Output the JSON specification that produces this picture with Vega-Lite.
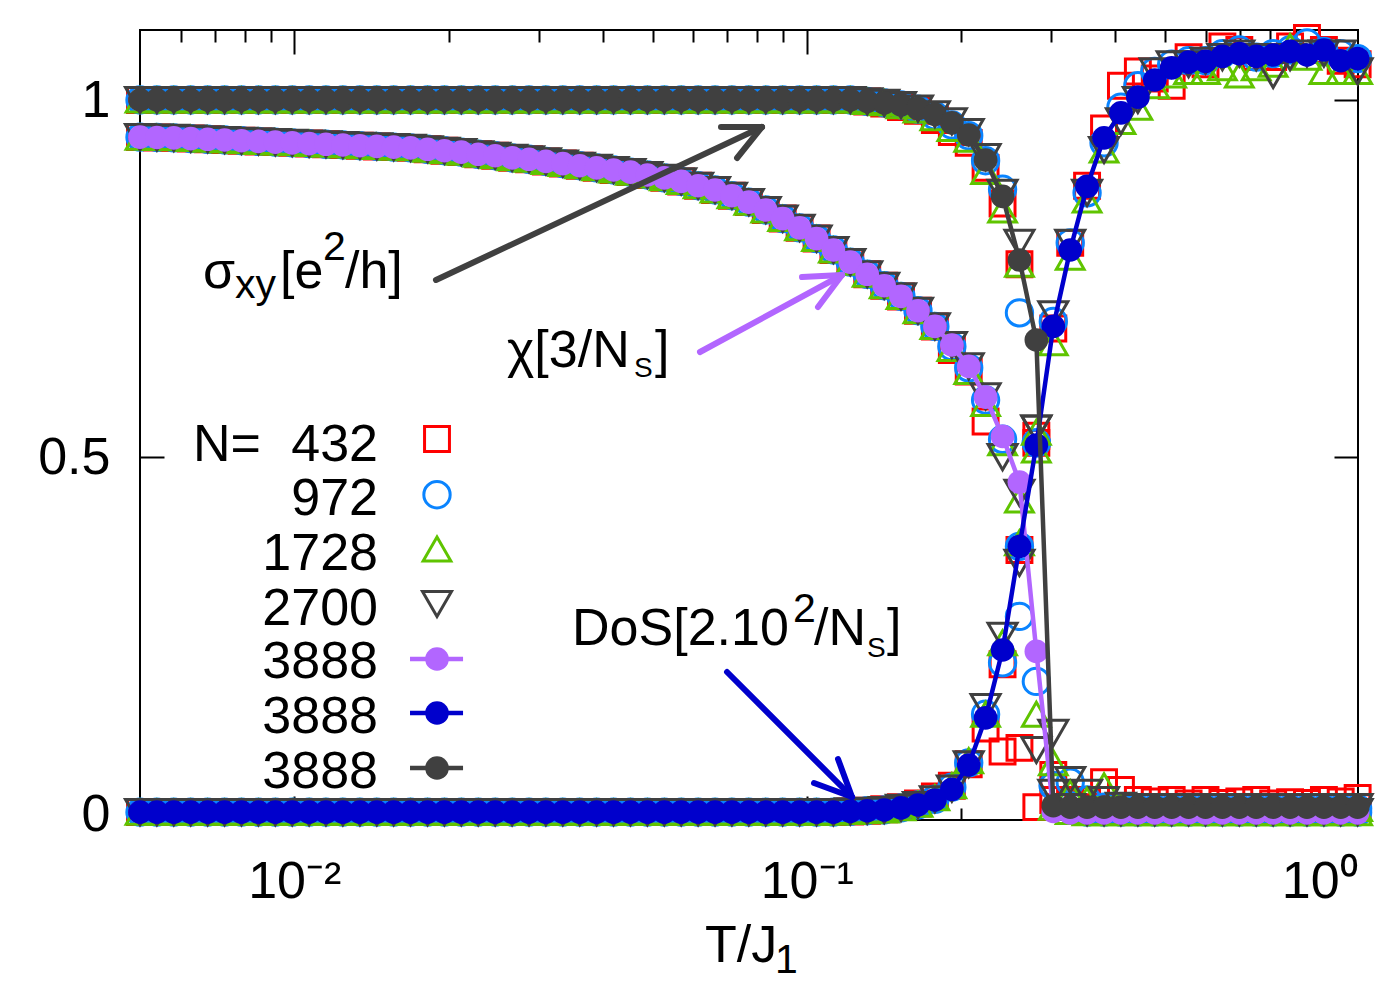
{
  "$schema": "https://vega.github.io/schema/vega-lite/v6.json",
  "width": 1218,
  "height": 790,
  "autosize": {"type": "none"},
  "padding": {"left": 140, "top": 30, "right": 42, "bottom": 180},
  "background": "white",
  "config": {
    "view": {"stroke": "black", "strokeWidth": 2},
    "axis": {
      "domain": false, "grid": false,
      "labelFont": "Liberation Sans", "labelFontSize": 52, "labelColor": "black",
      "titleFont": "Liberation Sans", "titleFontSize": 52, "titleFontWeight": "normal", "titleColor": "black",
      "tickColor": "black", "tickWidth": 2
    },
    "text": {"font": "Liberation Sans", "color": "black"}
  },
  "datasets": {
    "curves": [
      {"T":0.005,"q":"s","N0432":1,"N0972":1,"N1728":1,"N2700":1,"N3888":1},
      {"T":0.005394,"q":"s","N0432":1,"N0972":1,"N1728":1,"N2700":1,"N3888":1},
      {"T":0.00582,"q":"s","N0432":1,"N0972":1,"N1728":1,"N2700":1,"N3888":1},
      {"T":0.00628,"q":"s","N0432":1,"N0972":1,"N1728":1,"N2700":1,"N3888":1},
      {"T":0.006776,"q":"s","N0432":1,"N0972":1,"N1728":1,"N2700":1,"N3888":1},
      {"T":0.007311,"q":"s","N0432":1,"N0972":1,"N1728":1,"N2700":1,"N3888":1},
      {"T":0.007888,"q":"s","N0432":1,"N0972":1,"N1728":1,"N2700":1,"N3888":1},
      {"T":0.008511,"q":"s","N0432":1,"N0972":1,"N1728":1,"N2700":1,"N3888":1},
      {"T":0.009183,"q":"s","N0432":1,"N0972":1,"N1728":1,"N2700":1,"N3888":1},
      {"T":0.009908,"q":"s","N0432":1,"N0972":1,"N1728":1,"N2700":1,"N3888":1},
      {"T":0.01069,"q":"s","N0432":1,"N0972":1,"N1728":1,"N2700":1,"N3888":1},
      {"T":0.01153,"q":"s","N0432":1,"N0972":1,"N1728":1,"N2700":1,"N3888":1},
      {"T":0.01244,"q":"s","N0432":1,"N0972":1,"N1728":1,"N2700":1,"N3888":1},
      {"T":0.01343,"q":"s","N0432":1,"N0972":1,"N1728":1,"N2700":1,"N3888":1},
      {"T":0.01449,"q":"s","N0432":1,"N0972":1,"N1728":1,"N2700":1,"N3888":1},
      {"T":0.01563,"q":"s","N0432":1,"N0972":1,"N1728":1,"N2700":1,"N3888":1},
      {"T":0.01686,"q":"s","N0432":1,"N0972":1,"N1728":1,"N2700":1,"N3888":1},
      {"T":0.0182,"q":"s","N0432":1,"N0972":1,"N1728":1,"N2700":1,"N3888":1},
      {"T":0.01963,"q":"s","N0432":1,"N0972":1,"N1728":1,"N2700":1,"N3888":1},
      {"T":0.02118,"q":"s","N0432":1,"N0972":1,"N1728":1,"N2700":1,"N3888":1},
      {"T":0.02285,"q":"s","N0432":1,"N0972":1,"N1728":1,"N2700":1,"N3888":1},
      {"T":0.02466,"q":"s","N0432":1,"N0972":1,"N1728":1,"N2700":1,"N3888":1},
      {"T":0.02661,"q":"s","N0432":1,"N0972":1,"N1728":1,"N2700":1,"N3888":1},
      {"T":0.02871,"q":"s","N0432":1,"N0972":1,"N1728":1,"N2700":1,"N3888":1},
      {"T":0.03097,"q":"s","N0432":1,"N0972":1,"N1728":1,"N2700":1,"N3888":1},
      {"T":0.03342,"q":"s","N0432":1,"N0972":1,"N1728":1,"N2700":1,"N3888":1},
      {"T":0.03606,"q":"s","N0432":1,"N0972":1,"N1728":1,"N2700":1,"N3888":1},
      {"T":0.0389,"q":"s","N0432":1,"N0972":1,"N1728":1,"N2700":1,"N3888":1},
      {"T":0.04197,"q":"s","N0432":1,"N0972":1,"N1728":1,"N2700":1,"N3888":1},
      {"T":0.04529,"q":"s","N0432":1,"N0972":1,"N1728":1,"N2700":1,"N3888":1},
      {"T":0.04886,"q":"s","N0432":1,"N0972":1,"N1728":1,"N2700":1,"N3888":1},
      {"T":0.05272,"q":"s","N0432":1,"N0972":1,"N1728":1,"N2700":1,"N3888":1},
      {"T":0.05688,"q":"s","N0432":1,"N0972":1,"N1728":1,"N2700":1,"N3888":1},
      {"T":0.06137,"q":"s","N0432":1,"N0972":1,"N1728":1,"N2700":1,"N3888":1},
      {"T":0.06622,"q":"s","N0432":1,"N0972":1,"N1728":1,"N2700":1,"N3888":1},
      {"T":0.07144,"q":"s","N0432":1,"N0972":1,"N1728":1,"N2700":1,"N3888":1},
      {"T":0.07708,"q":"s","N0432":1,"N0972":1,"N1728":1,"N2700":1,"N3888":1},
      {"T":0.08317,"q":"s","N0432":1,"N0972":1,"N1728":1,"N2700":1,"N3888":1},
      {"T":0.08974,"q":"s","N0432":1,"N0972":1,"N1728":1,"N2700":1,"N3888":1},
      {"T":0.09682,"q":"s","N0432":1,"N0972":1,"N1728":1,"N2700":1,"N3888":1},
      {"T":0.1045,"q":"s","N0432":1,"N0972":1,"N1728":1,"N2700":1,"N3888":1},
      {"T":0.1127,"q":"s","N0432":1,"N0972":1,"N1728":1,"N2700":1,"N3888":1},
      {"T":0.1216,"q":"s","N0432":1,"N0972":1,"N1728":1,"N2700":1,"N3888":1},
      {"T":0.1312,"q":"s","N0432":0.998,"N0972":0.998,"N1728":0.998,"N2700":0.998,"N3888":0.998},
      {"T":0.1416,"q":"s","N0432":0.995,"N0972":0.996,"N1728":0.996,"N2700":0.996,"N3888":0.996},
      {"T":0.1527,"q":"s","N0432":0.99,"N0972":0.993,"N1728":0.992,"N2700":0.993,"N3888":0.993},
      {"T":0.1648,"q":"s","N0432":0.985,"N0972":0.987,"N1728":0.986,"N2700":0.988,"N3888":0.988},
      {"T":0.1778,"q":"s","N0432":0.972,"N0972":0.978,"N1728":0.975,"N2700":0.98,"N3888":0.98},
      {"T":0.1919,"q":"s","N0432":0.955,"N0972":0.965,"N1728":0.96,"N2700":0.97,"N3888":0.968},
      {"T":0.207,"q":"s","N0432":0.94,"N0972":0.95,"N1728":0.945,"N2700":0.955,"N3888":0.951},
      {"T":0.2233,"q":"s","N0432":0.905,"N0972":0.915,"N1728":0.9,"N2700":0.92,"N3888":0.916},
      {"T":0.241,"q":"s","N0432":0.855,"N0972":0.875,"N1728":0.846,"N2700":0.87,"N3888":0.865},
      {"T":0.26,"q":"s","N0432":0.77,"N0972":0.702,"N1728":0.77,"N2700":0.8,"N3888":0.776},
      {"T":0.2805,"q":"s","N0432":0.53,"N0972":0.52,"N1728":0.535,"N2700":0.54,"N3888":0.664},
      {"T":0.3027,"q":"s","N0432":0.055,"N0972":0.04,"N1728":0.072,"N2700":0.114,"N3888":0.012},
      {"T":0.3266,"q":"s","N0432":0.02,"N0972":0.045,"N1728":0.03,"N2700":0.048,"N3888":0.01},
      {"T":0.3523,"q":"s","N0432":0.02,"N0972":0.02,"N1728":0.02,"N2700":0.03,"N3888":0.01},
      {"T":0.3802,"q":"s","N0432":0.045,"N0972":0.01,"N1728":0.04,"N2700":0.02,"N3888":0.01},
      {"T":0.4102,"q":"s","N0432":0.034,"N0972":0.01,"N1728":0.01,"N2700":0.012,"N3888":0.01},
      {"T":0.4426,"q":"s","N0432":0.02,"N0972":0.008,"N1728":0.008,"N2700":0.01,"N3888":0.01},
      {"T":0.4775,"q":"s","N0432":0.018,"N0972":0.008,"N1728":0.008,"N2700":0.01,"N3888":0.01},
      {"T":0.5152,"q":"s","N0432":0.02,"N0972":0.008,"N1728":0.008,"N2700":0.01,"N3888":0.01},
      {"T":0.5559,"q":"s","N0432":0.015,"N0972":0.008,"N1728":0.008,"N2700":0.01,"N3888":0.01},
      {"T":0.5998,"q":"s","N0432":0.02,"N0972":0.008,"N1728":0.008,"N2700":0.01,"N3888":0.01},
      {"T":0.6471,"q":"s","N0432":0.016,"N0972":0.008,"N1728":0.008,"N2700":0.01,"N3888":0.01},
      {"T":0.6982,"q":"s","N0432":0.018,"N0972":0.008,"N1728":0.008,"N2700":0.01,"N3888":0.01},
      {"T":0.7533,"q":"s","N0432":0.02,"N0972":0.008,"N1728":0.008,"N2700":0.01,"N3888":0.01},
      {"T":0.8128,"q":"s","N0432":0.015,"N0972":0.008,"N1728":0.008,"N2700":0.01,"N3888":0.01},
      {"T":0.877,"q":"s","N0432":0.017,"N0972":0.008,"N1728":0.008,"N2700":0.01,"N3888":0.01},
      {"T":0.9462,"q":"s","N0432":0.016,"N0972":0.008,"N1728":0.008,"N2700":0.01,"N3888":0.01},
      {"T":1.021,"q":"s","N0432":0.02,"N0972":0.008,"N1728":0.008,"N2700":0.01,"N3888":0.01},
      {"T":1.101,"q":"s","N0432":0.018,"N0972":0.008,"N1728":0.008,"N2700":0.01,"N3888":0.01},
      {"T":1.188,"q":"s","N0432":0.023,"N0972":0.008,"N1728":0.008,"N2700":0.01,"N3888":0.01},

      {"T":0.005,"q":"c","N0432":0.948,"N0972":0.948,"N1728":0.948,"N2700":0.948,"N3888":0.948},
      {"T":0.005394,"q":"c","N0432":0.9475,"N0972":0.9475,"N1728":0.9475,"N2700":0.9475,"N3888":0.9475},
      {"T":0.00582,"q":"c","N0432":0.947,"N0972":0.947,"N1728":0.947,"N2700":0.947,"N3888":0.947},
      {"T":0.00628,"q":"c","N0432":0.946,"N0972":0.946,"N1728":0.946,"N2700":0.946,"N3888":0.946},
      {"T":0.006776,"q":"c","N0432":0.945,"N0972":0.945,"N1728":0.945,"N2700":0.945,"N3888":0.945},
      {"T":0.007311,"q":"c","N0432":0.944,"N0972":0.944,"N1728":0.944,"N2700":0.944,"N3888":0.944},
      {"T":0.007888,"q":"c","N0432":0.943,"N0972":0.943,"N1728":0.943,"N2700":0.943,"N3888":0.943},
      {"T":0.008511,"q":"c","N0432":0.942,"N0972":0.942,"N1728":0.942,"N2700":0.942,"N3888":0.942},
      {"T":0.009183,"q":"c","N0432":0.941,"N0972":0.941,"N1728":0.941,"N2700":0.941,"N3888":0.941},
      {"T":0.009908,"q":"c","N0432":0.94,"N0972":0.94,"N1728":0.94,"N2700":0.94,"N3888":0.94},
      {"T":0.01069,"q":"c","N0432":0.939,"N0972":0.939,"N1728":0.939,"N2700":0.939,"N3888":0.939},
      {"T":0.01153,"q":"c","N0432":0.938,"N0972":0.938,"N1728":0.938,"N2700":0.938,"N3888":0.938},
      {"T":0.01244,"q":"c","N0432":0.937,"N0972":0.937,"N1728":0.937,"N2700":0.937,"N3888":0.937},
      {"T":0.01343,"q":"c","N0432":0.936,"N0972":0.936,"N1728":0.936,"N2700":0.936,"N3888":0.936},
      {"T":0.01449,"q":"c","N0432":0.935,"N0972":0.935,"N1728":0.935,"N2700":0.935,"N3888":0.935},
      {"T":0.01563,"q":"c","N0432":0.934,"N0972":0.934,"N1728":0.934,"N2700":0.934,"N3888":0.934},
      {"T":0.01686,"q":"c","N0432":0.933,"N0972":0.933,"N1728":0.933,"N2700":0.933,"N3888":0.933},
      {"T":0.0182,"q":"c","N0432":0.931,"N0972":0.931,"N1728":0.931,"N2700":0.931,"N3888":0.931},
      {"T":0.01963,"q":"c","N0432":0.929,"N0972":0.929,"N1728":0.929,"N2700":0.929,"N3888":0.929},
      {"T":0.02118,"q":"c","N0432":0.927,"N0972":0.927,"N1728":0.927,"N2700":0.927,"N3888":0.927},
      {"T":0.02285,"q":"c","N0432":0.924,"N0972":0.924,"N1728":0.924,"N2700":0.924,"N3888":0.924},
      {"T":0.02466,"q":"c","N0432":0.922,"N0972":0.922,"N1728":0.922,"N2700":0.922,"N3888":0.922},
      {"T":0.02661,"q":"c","N0432":0.919,"N0972":0.919,"N1728":0.919,"N2700":0.919,"N3888":0.919},
      {"T":0.02871,"q":"c","N0432":0.917,"N0972":0.917,"N1728":0.917,"N2700":0.917,"N3888":0.917},
      {"T":0.03097,"q":"c","N0432":0.914,"N0972":0.914,"N1728":0.914,"N2700":0.914,"N3888":0.914},
      {"T":0.03342,"q":"c","N0432":0.911,"N0972":0.911,"N1728":0.911,"N2700":0.911,"N3888":0.911},
      {"T":0.03606,"q":"c","N0432":0.908,"N0972":0.908,"N1728":0.908,"N2700":0.908,"N3888":0.908},
      {"T":0.0389,"q":"c","N0432":0.905,"N0972":0.905,"N1728":0.905,"N2700":0.905,"N3888":0.905},
      {"T":0.04197,"q":"c","N0432":0.902,"N0972":0.902,"N1728":0.902,"N2700":0.902,"N3888":0.902},
      {"T":0.04529,"q":"c","N0432":0.899,"N0972":0.899,"N1728":0.899,"N2700":0.899,"N3888":0.899},
      {"T":0.04886,"q":"c","N0432":0.895,"N0972":0.895,"N1728":0.895,"N2700":0.895,"N3888":0.895},
      {"T":0.05272,"q":"c","N0432":0.891,"N0972":0.891,"N1728":0.891,"N2700":0.891,"N3888":0.891},
      {"T":0.05688,"q":"c","N0432":0.886,"N0972":0.886,"N1728":0.886,"N2700":0.886,"N3888":0.886},
      {"T":0.06137,"q":"c","N0432":0.88,"N0972":0.88,"N1728":0.88,"N2700":0.88,"N3888":0.88},
      {"T":0.06622,"q":"c","N0432":0.874,"N0972":0.874,"N1728":0.874,"N2700":0.874,"N3888":0.874},
      {"T":0.07144,"q":"c","N0432":0.866,"N0972":0.866,"N1728":0.866,"N2700":0.866,"N3888":0.866},
      {"T":0.07708,"q":"c","N0432":0.857,"N0972":0.857,"N1728":0.857,"N2700":0.857,"N3888":0.857},
      {"T":0.08317,"q":"c","N0432":0.846,"N0972":0.846,"N1728":0.846,"N2700":0.846,"N3888":0.846},
      {"T":0.08974,"q":"c","N0432":0.834,"N0972":0.834,"N1728":0.834,"N2700":0.834,"N3888":0.834},
      {"T":0.09682,"q":"c","N0432":0.821,"N0972":0.821,"N1728":0.821,"N2700":0.821,"N3888":0.821},
      {"T":0.1045,"q":"c","N0432":0.806,"N0972":0.806,"N1728":0.806,"N2700":0.806,"N3888":0.806},
      {"T":0.1127,"q":"c","N0432":0.79,"N0972":0.79,"N1728":0.79,"N2700":0.79,"N3888":0.79},
      {"T":0.1216,"q":"c","N0432":0.773,"N0972":0.773,"N1728":0.773,"N2700":0.773,"N3888":0.773},
      {"T":0.1312,"q":"c","N0432":0.756,"N0972":0.756,"N1728":0.756,"N2700":0.756,"N3888":0.756},
      {"T":0.1416,"q":"c","N0432":0.74,"N0972":0.74,"N1728":0.74,"N2700":0.74,"N3888":0.74},
      {"T":0.1527,"q":"c","N0432":0.725,"N0972":0.725,"N1728":0.725,"N2700":0.725,"N3888":0.725},
      {"T":0.1648,"q":"c","N0432":0.705,"N0972":0.705,"N1728":0.705,"N2700":0.705,"N3888":0.705},
      {"T":0.1778,"q":"c","N0432":0.683,"N0972":0.683,"N1728":0.683,"N2700":0.683,"N3888":0.683},
      {"T":0.1919,"q":"c","N0432":0.65,"N0972":0.655,"N1728":0.652,"N2700":0.657,"N3888":0.657},
      {"T":0.207,"q":"c","N0432":0.62,"N0972":0.625,"N1728":0.62,"N2700":0.627,"N3888":0.627},
      {"T":0.2233,"q":"c","N0432":0.55,"N0972":0.58,"N1728":0.575,"N2700":0.585,"N3888":0.584},
      {"T":0.241,"q":"c","N0432":0.088,"N0972":0.525,"N1728":0.52,"N2700":0.5,"N3888":0.529},
      {"T":0.26,"q":"c","N0432":0.093,"N0972":0.277,"N1728":0.44,"N2700":0.45,"N3888":0.465},
      {"T":0.2805,"q":"c","N0432":0.01,"N0972":0.186,"N1728":0.14,"N2700":0.09,"N3888":0.228},
      {"T":0.3027,"q":"c","N0432":0.02,"N0972":0.04,"N1728":0.01,"N2700":0.03,"N3888":0.004},
      {"T":0.3266,"q":"c","N0432":0.02,"N0972":0.012,"N1728":0.004,"N2700":0.01,"N3888":0.002},
      {"T":0.3523,"q":"c","N0432":0.01,"N0972":0.003,"N1728":0.002,"N2700":0.003,"N3888":0.002},
      {"T":0.3802,"q":"c","N0432":0.01,"N0972":0.003,"N1728":0.002,"N2700":0.003,"N3888":0.002},
      {"T":0.4102,"q":"c","N0432":0.01,"N0972":0.003,"N1728":0.002,"N2700":0.003,"N3888":0.002},
      {"T":0.4426,"q":"c","N0432":0.01,"N0972":0.003,"N1728":0.002,"N2700":0.003,"N3888":0.002},
      {"T":0.4775,"q":"c","N0432":0.01,"N0972":0.003,"N1728":0.002,"N2700":0.003,"N3888":0.002},
      {"T":0.5152,"q":"c","N0432":0.01,"N0972":0.003,"N1728":0.002,"N2700":0.003,"N3888":0.002},
      {"T":0.5559,"q":"c","N0432":0.01,"N0972":0.003,"N1728":0.002,"N2700":0.003,"N3888":0.002},
      {"T":0.5998,"q":"c","N0432":0.01,"N0972":0.003,"N1728":0.002,"N2700":0.003,"N3888":0.002},
      {"T":0.6471,"q":"c","N0432":0.01,"N0972":0.003,"N1728":0.002,"N2700":0.003,"N3888":0.002},
      {"T":0.6982,"q":"c","N0432":0.01,"N0972":0.003,"N1728":0.002,"N2700":0.003,"N3888":0.002},
      {"T":0.7533,"q":"c","N0432":0.01,"N0972":0.003,"N1728":0.002,"N2700":0.003,"N3888":0.002},
      {"T":0.8128,"q":"c","N0432":0.01,"N0972":0.003,"N1728":0.002,"N2700":0.003,"N3888":0.002},
      {"T":0.877,"q":"c","N0432":0.01,"N0972":0.003,"N1728":0.002,"N2700":0.003,"N3888":0.002},
      {"T":0.9462,"q":"c","N0432":0.01,"N0972":0.003,"N1728":0.002,"N2700":0.003,"N3888":0.002},
      {"T":1.021,"q":"c","N0432":0.01,"N0972":0.003,"N1728":0.002,"N2700":0.003,"N3888":0.002},
      {"T":1.101,"q":"c","N0432":0.01,"N0972":0.003,"N1728":0.002,"N2700":0.003,"N3888":0.002},
      {"T":1.188,"q":"c","N0432":0.01,"N0972":0.003,"N1728":0.002,"N2700":0.003,"N3888":0.002},

      {"T":0.005,"q":"d","N0432":0.003,"N0972":0.003,"N1728":0.003,"N2700":0.003,"N3888":0.003},
      {"T":0.005394,"q":"d","N0432":0.003,"N0972":0.003,"N1728":0.003,"N2700":0.003,"N3888":0.003},
      {"T":0.00582,"q":"d","N0432":0.003,"N0972":0.003,"N1728":0.003,"N2700":0.003,"N3888":0.003},
      {"T":0.00628,"q":"d","N0432":0.003,"N0972":0.003,"N1728":0.003,"N2700":0.003,"N3888":0.003},
      {"T":0.006776,"q":"d","N0432":0.003,"N0972":0.003,"N1728":0.003,"N2700":0.003,"N3888":0.003},
      {"T":0.007311,"q":"d","N0432":0.003,"N0972":0.003,"N1728":0.003,"N2700":0.003,"N3888":0.003},
      {"T":0.007888,"q":"d","N0432":0.003,"N0972":0.003,"N1728":0.003,"N2700":0.003,"N3888":0.003},
      {"T":0.008511,"q":"d","N0432":0.003,"N0972":0.003,"N1728":0.003,"N2700":0.003,"N3888":0.003},
      {"T":0.009183,"q":"d","N0432":0.003,"N0972":0.003,"N1728":0.003,"N2700":0.003,"N3888":0.003},
      {"T":0.009908,"q":"d","N0432":0.003,"N0972":0.003,"N1728":0.003,"N2700":0.003,"N3888":0.003},
      {"T":0.01069,"q":"d","N0432":0.003,"N0972":0.003,"N1728":0.003,"N2700":0.003,"N3888":0.003},
      {"T":0.01153,"q":"d","N0432":0.003,"N0972":0.003,"N1728":0.003,"N2700":0.003,"N3888":0.003},
      {"T":0.01244,"q":"d","N0432":0.003,"N0972":0.003,"N1728":0.003,"N2700":0.003,"N3888":0.003},
      {"T":0.01343,"q":"d","N0432":0.003,"N0972":0.003,"N1728":0.003,"N2700":0.003,"N3888":0.003},
      {"T":0.01449,"q":"d","N0432":0.003,"N0972":0.003,"N1728":0.003,"N2700":0.003,"N3888":0.003},
      {"T":0.01563,"q":"d","N0432":0.003,"N0972":0.003,"N1728":0.003,"N2700":0.003,"N3888":0.003},
      {"T":0.01686,"q":"d","N0432":0.003,"N0972":0.003,"N1728":0.003,"N2700":0.003,"N3888":0.003},
      {"T":0.0182,"q":"d","N0432":0.003,"N0972":0.003,"N1728":0.003,"N2700":0.003,"N3888":0.003},
      {"T":0.01963,"q":"d","N0432":0.003,"N0972":0.003,"N1728":0.003,"N2700":0.003,"N3888":0.003},
      {"T":0.02118,"q":"d","N0432":0.003,"N0972":0.003,"N1728":0.003,"N2700":0.003,"N3888":0.003},
      {"T":0.02285,"q":"d","N0432":0.003,"N0972":0.003,"N1728":0.003,"N2700":0.003,"N3888":0.003},
      {"T":0.02466,"q":"d","N0432":0.003,"N0972":0.003,"N1728":0.003,"N2700":0.003,"N3888":0.003},
      {"T":0.02661,"q":"d","N0432":0.003,"N0972":0.003,"N1728":0.003,"N2700":0.003,"N3888":0.003},
      {"T":0.02871,"q":"d","N0432":0.003,"N0972":0.003,"N1728":0.003,"N2700":0.003,"N3888":0.003},
      {"T":0.03097,"q":"d","N0432":0.003,"N0972":0.003,"N1728":0.003,"N2700":0.003,"N3888":0.003},
      {"T":0.03342,"q":"d","N0432":0.003,"N0972":0.003,"N1728":0.003,"N2700":0.003,"N3888":0.003},
      {"T":0.03606,"q":"d","N0432":0.003,"N0972":0.003,"N1728":0.003,"N2700":0.003,"N3888":0.003},
      {"T":0.0389,"q":"d","N0432":0.003,"N0972":0.003,"N1728":0.003,"N2700":0.003,"N3888":0.003},
      {"T":0.04197,"q":"d","N0432":0.003,"N0972":0.003,"N1728":0.003,"N2700":0.003,"N3888":0.003},
      {"T":0.04529,"q":"d","N0432":0.003,"N0972":0.003,"N1728":0.003,"N2700":0.003,"N3888":0.003},
      {"T":0.04886,"q":"d","N0432":0.003,"N0972":0.003,"N1728":0.003,"N2700":0.003,"N3888":0.003},
      {"T":0.05272,"q":"d","N0432":0.003,"N0972":0.003,"N1728":0.003,"N2700":0.003,"N3888":0.003},
      {"T":0.05688,"q":"d","N0432":0.003,"N0972":0.003,"N1728":0.003,"N2700":0.003,"N3888":0.003},
      {"T":0.06137,"q":"d","N0432":0.003,"N0972":0.003,"N1728":0.003,"N2700":0.003,"N3888":0.003},
      {"T":0.06622,"q":"d","N0432":0.003,"N0972":0.003,"N1728":0.003,"N2700":0.003,"N3888":0.003},
      {"T":0.07144,"q":"d","N0432":0.003,"N0972":0.003,"N1728":0.003,"N2700":0.003,"N3888":0.003},
      {"T":0.07708,"q":"d","N0432":0.003,"N0972":0.003,"N1728":0.003,"N2700":0.003,"N3888":0.003},
      {"T":0.08317,"q":"d","N0432":0.003,"N0972":0.003,"N1728":0.003,"N2700":0.003,"N3888":0.003},
      {"T":0.08974,"q":"d","N0432":0.003,"N0972":0.003,"N1728":0.003,"N2700":0.003,"N3888":0.003},
      {"T":0.09682,"q":"d","N0432":0.003,"N0972":0.003,"N1728":0.003,"N2700":0.003,"N3888":0.003},
      {"T":0.1045,"q":"d","N0432":0.003,"N0972":0.003,"N1728":0.003,"N2700":0.003,"N3888":0.003},
      {"T":0.1127,"q":"d","N0432":0.003,"N0972":0.003,"N1728":0.003,"N2700":0.003,"N3888":0.003},
      {"T":0.1216,"q":"d","N0432":0.004,"N0972":0.004,"N1728":0.004,"N2700":0.004,"N3888":0.004},
      {"T":0.1312,"q":"d","N0432":0.005,"N0972":0.005,"N1728":0.005,"N2700":0.005,"N3888":0.005},
      {"T":0.1416,"q":"d","N0432":0.007,"N0972":0.006,"N1728":0.006,"N2700":0.006,"N3888":0.006},
      {"T":0.1527,"q":"d","N0432":0.01,"N0972":0.009,"N1728":0.009,"N2700":0.009,"N3888":0.009},
      {"T":0.1648,"q":"d","N0432":0.015,"N0972":0.013,"N1728":0.014,"N2700":0.013,"N3888":0.013},
      {"T":0.1778,"q":"d","N0432":0.025,"N0972":0.021,"N1728":0.023,"N2700":0.021,"N3888":0.02},
      {"T":0.1919,"q":"d","N0432":0.04,"N0972":0.038,"N1728":0.04,"N2700":0.036,"N3888":0.035},
      {"T":0.207,"q":"d","N0432":0.07,"N0972":0.072,"N1728":0.075,"N2700":0.07,"N3888":0.069},
      {"T":0.2233,"q":"d","N0432":0.12,"N0972":0.14,"N1728":0.14,"N2700":0.15,"N3888":0.135},
      {"T":0.241,"q":"d","N0432":0.21,"N0972":0.212,"N1728":0.24,"N2700":0.25,"N3888":0.23},
      {"T":0.26,"q":"d","N0432":0.37,"N0972":0.375,"N1728":0.38,"N2700":0.352,"N3888":0.375},
      {"T":0.2805,"q":"d","N0432":0.52,"N0972":0.52,"N1728":0.51,"N2700":0.54,"N3888":0.517},
      {"T":0.3027,"q":"d","N0432":0.68,"N0972":0.69,"N1728":0.66,"N2700":0.7,"N3888":0.683},
      {"T":0.3266,"q":"d","N0432":0.8,"N0972":0.8,"N1728":0.78,"N2700":0.8,"N3888":0.79},
      {"T":0.3523,"q":"d","N0432":0.88,"N0972":0.87,"N1728":0.86,"N2700":0.87,"N3888":0.879},
      {"T":0.3802,"q":"d","N0432":0.96,"N0972":0.94,"N1728":0.93,"N2700":0.93,"N3888":0.947},
      {"T":0.4102,"q":"d","N0432":1.02,"N0972":0.99,"N1728":0.97,"N2700":0.97,"N3888":0.982},
      {"T":0.4426,"q":"d","N0432":1.04,"N0972":1.02,"N1728":0.99,"N2700":1.0,"N3888":1.004},
      {"T":0.4775,"q":"d","N0432":1.03,"N0972":1.04,"N1728":1.02,"N2700":1.04,"N3888":1.028},
      {"T":0.5152,"q":"d","N0432":1.02,"N0972":1.05,"N1728":1.035,"N2700":1.05,"N3888":1.045},
      {"T":0.5559,"q":"d","N0432":1.06,"N0972":1.055,"N1728":1.04,"N2700":1.05,"N3888":1.053},
      {"T":0.5998,"q":"d","N0432":1.05,"N0972":1.055,"N1728":1.04,"N2700":1.055,"N3888":1.054},
      {"T":0.6471,"q":"d","N0432":1.075,"N0972":1.065,"N1728":1.045,"N2700":1.06,"N3888":1.061},
      {"T":0.6982,"q":"d","N0432":1.07,"N0972":1.07,"N1728":1.035,"N2700":1.065,"N3888":1.065},
      {"T":0.7533,"q":"d","N0432":1.06,"N0972":1.06,"N1728":1.045,"N2700":1.06,"N3888":1.061},
      {"T":0.8128,"q":"d","N0432":1.06,"N0972":1.065,"N1728":1.05,"N2700":1.035,"N3888":1.063},
      {"T":0.877,"q":"d","N0432":1.075,"N0972":1.07,"N1728":1.075,"N2700":1.06,"N3888":1.068},
      {"T":0.9462,"q":"d","N0432":1.087,"N0972":1.08,"N1728":1.06,"N2700":1.065,"N3888":1.063},
      {"T":1.021,"q":"d","N0432":1.07,"N0972":1.068,"N1728":1.04,"N2700":1.065,"N3888":1.07},
      {"T":1.101,"q":"d","N0432":1.055,"N0972":1.065,"N1728":1.04,"N2700":1.065,"N3888":1.055},
      {"T":1.188,"q":"d","N0432":1.05,"N0972":1.058,"N1728":1.04,"N2700":1.04,"N3888":1.058}
    ],
    "arrows": [
      {"T":0.0189,"v":0.748,"T2":0.08177,"v2":0.9622,"q":"s"},
      {"T":0.06801,"v":0.9622,"T2":0.08177,"v2":0.9622,"q":"s"},
      {"T":0.0731,"v":0.9188,"T2":0.08177,"v2":0.9622,"q":"s"},
      {"T":0.06189,"v":0.6472,"T2":0.11716,"v2":0.755,"q":"c"},
      {"T":0.09788,"v":0.7522,"T2":0.11716,"v2":0.755,"q":"c"},
      {"T":0.10517,"v":0.7102,"T2":0.11716,"v2":0.755,"q":"c"},
      {"T":0.06988,"v":0.1992,"T2":0.12255,"v2":0.0242,"q":"d"},
      {"T":0.1033,"v":0.0438,"T2":0.12255,"v2":0.0242,"q":"d"},
      {"T":0.11506,"v":0.0774,"T2":0.12255,"v2":0.0242,"q":"d"}
    ],
    "notes": [
      {"T":0.006637,"v":0.7368,"label":"σ"},
      {"T":0.009379,"v":0.7368,"label":"[e"},
      {"T":0.012559,"v":0.7368,"label":"/h]"},
      {"T":0.026008,"v":0.6262,"label":"χ[3/N"},
      {"T":0.05056,"v":0.6262,"label":"]"},
      {"T":0.034834,"v":0.237,"label":"DoS[2.10"},
      {"T":0.1033,"v":0.237,"label":"/N"},
      {"T":0.1434,"v":0.237,"label":"]"},
      {"T":0.006345,"v":0.4946,"label":"N="},
      {"T":0.06331,"v":-0.2068,"label":"T/J"}
    ],
    "subs": [
      {"T":0.007662,"v":0.7228,"label":"xy"},
      {"T":0.011373,"v":0.776,"label":"2"},
      {"T":0.093998,"v":0.2692,"label":"2"},
      {"T":0.08669,"v":-0.2222,"label":"1"}
    ],
    "tinysubs": [
      {"T":0.046017,"v":0.6122,"label":"S"},
      {"T":0.13107,"v":0.2202,"label":"S"}
    ],
    "keylabels": [
      {"T":0.014568,"v":0.4946,"label":"432"},
      {"T":0.014568,"v":0.419,"label":"972"},
      {"T":0.014568,"v":0.342,"label":"1728"},
      {"T":0.014568,"v":0.265,"label":"2700"},
      {"T":0.014568,"v":0.1908,"label":"3888"},
      {"T":0.014568,"v":0.1138,"label":"3888"},
      {"T":0.014568,"v":0.0368,"label":"3888"}
    ],
    "keys": [
      {"T":0.018988,"v":0.5254,"N":"N0432"},
      {"T":0.018988,"v":0.4474,"N":"N0972"},
      {"T":0.018988,"v":0.3714,"N":"N1728"},
      {"T":0.018988,"v":0.2944,"N":"N2700"}
    ],
    "keylines": [
      {"T":0.018988,"T1":0.01682,"T2":0.021345,"v":0.2174,"q":"c"},
      {"T":0.018988,"T1":0.01682,"T2":0.021345,"v":0.1418,"q":"d"},
      {"T":0.018988,"T1":0.01682,"T2":0.021345,"v":0.0648,"q":"s"}
    ]
  },
  "layer": [
    {
      "encoding": {
        "x": {
          "field": "T", "type": "quantitative",
          "scale": {"type": "log", "domain": [0.005, 1.19], "nice": false},
          "axis": {
            "orient": "bottom",
            "values": [0.006, 0.007, 0.008, 0.009, 0.01, 0.02, 0.03, 0.04, 0.05, 0.06, 0.07, 0.08, 0.09, 0.1, 0.2, 0.3, 0.4, 0.5, 0.6, 0.7, 0.8, 0.9, 1],
            "labelExpr": "datum.value == 0.01 ? '10⁻²' : datum.value == 0.1 ? '10⁻¹' : datum.value == 1 ? '10⁰' : ''",
            "tickSize": {"condition": {"test": "datum.value == 0.01 || datum.value == 0.1 || datum.value == 1", "value": -24}, "value": -12},
            "labelPadding": 60,
            "labelOverlap": false,
            "labelFlush": false,
            "title": null
          }
        },
        "y": {
          "field": "v", "type": "quantitative",
          "scale": {"domain": [-0.008, 1.098], "nice": false, "zero": false},
          "axis": {
            "orient": "left",
            "values": [0, 0.5, 1],
            "format": "~g",
            "tickSize": -24,
            "labelPadding": 54,
            "title": null
          }
        }
      },
      "layer": [
        {
          "data": {"name": "curves"},
          "transform": [{"fold": ["N0432", "N0972", "N1728", "N2700"], "as": ["N", "v"]}],
          "mark": {"type": "point", "filled": false, "strokeWidth": 3, "opacity": 1},
          "encoding": {
            "stroke": {"field": "N", "type": "nominal", "legend": null,
              "scale": {"domain": ["N0432", "N0972", "N1728", "N2700"], "range": ["#ff0000", "#0a84ff", "#5fc400", "#404040"]}},
            "shape": {"field": "N", "type": "nominal", "legend": null,
              "scale": {"domain": ["N0432", "N0972", "N1728", "N2700"], "range": ["square", "circle", "triangle-up", "triangle-down"]}},
            "size": {"field": "N", "type": "ordinal", "legend": null,
              "scale": {"domain": ["N0432", "N0972", "N1728", "N2700"], "range": [620, 841, 800, 800]}},
            "order": {"field": "N", "type": "ordinal"}
          }
        },
        {
          "data": {"name": "curves"},
          "transform": [{"filter": "datum.q == 'c'"}],
          "mark": {"type": "line", "strokeWidth": 4.5, "point": {"filled": true, "size": 560, "opacity": 1}},
          "encoding": {
            "y": {"field": "N3888", "type": "quantitative"},
            "color": {"field": "q", "type": "nominal", "legend": null,
              "scale": {"domain": ["c", "d", "s"], "range": ["#b266ff", "#0000cc", "#404040"]}}
          }
        },
        {
          "data": {"name": "curves"},
          "transform": [{"filter": "datum.q == 'd'"}],
          "mark": {"type": "line", "strokeWidth": 4.5, "point": {"filled": true, "size": 560, "opacity": 1}},
          "encoding": {
            "y": {"field": "N3888", "type": "quantitative"},
            "color": {"field": "q", "type": "nominal", "legend": null,
              "scale": {"domain": ["c", "d", "s"], "range": ["#b266ff", "#0000cc", "#404040"]}}
          }
        },
        {
          "data": {"name": "curves"},
          "transform": [{"filter": "datum.q == 's'"}],
          "mark": {"type": "line", "strokeWidth": 4.5, "point": {"filled": true, "size": 560, "opacity": 1}},
          "encoding": {
            "y": {"field": "N3888", "type": "quantitative"},
            "color": {"field": "q", "type": "nominal", "legend": null,
              "scale": {"domain": ["c", "d", "s"], "range": ["#b266ff", "#0000cc", "#404040"]}}
          }
        },
        {
          "data": {"name": "arrows"},
          "mark": {"type": "rule", "strokeWidth": 6, "strokeCap": "round"},
          "encoding": {
            "x2": {"field": "T2"},
            "y2": {"field": "v2"},
            "color": {"field": "q", "type": "nominal", "legend": null,
              "scale": {"domain": ["c", "d", "s"], "range": ["#b266ff", "#0000cc", "#404040"]}}
          }
        },
        {
          "data": {"name": "notes"},
          "mark": {"type": "text", "align": "left", "baseline": "alphabetic", "fontSize": 52, "font": "Liberation Sans", "color": "black"},
          "encoding": {"text": {"field": "label"}}
        },
        {
          "data": {"name": "subs"},
          "mark": {"type": "text", "align": "left", "baseline": "alphabetic", "fontSize": 41, "font": "Liberation Sans", "color": "black"},
          "encoding": {"text": {"field": "label"}}
        },
        {
          "data": {"name": "tinysubs"},
          "mark": {"type": "text", "align": "left", "baseline": "alphabetic", "fontSize": 28, "font": "Liberation Sans", "color": "black"},
          "encoding": {"text": {"field": "label"}}
        },
        {
          "data": {"name": "keylabels"},
          "mark": {"type": "text", "align": "right", "baseline": "alphabetic", "fontSize": 52, "font": "Liberation Sans", "color": "black"},
          "encoding": {"text": {"field": "label"}}
        },
        {
          "data": {"name": "keys"},
          "mark": {"type": "point", "filled": false, "strokeWidth": 3, "opacity": 1},
          "encoding": {
            "stroke": {"field": "N", "type": "nominal", "legend": null,
              "scale": {"domain": ["N0432", "N0972", "N1728", "N2700"], "range": ["#ff0000", "#0a84ff", "#5fc400", "#404040"]}},
            "shape": {"field": "N", "type": "nominal", "legend": null,
              "scale": {"domain": ["N0432", "N0972", "N1728", "N2700"], "range": ["square", "circle", "triangle-up", "triangle-down"]}},
            "size": {"field": "N", "type": "ordinal", "legend": null,
              "scale": {"domain": ["N0432", "N0972", "N1728", "N2700"], "range": [620, 841, 800, 800]}}
          }
        },
        {
          "data": {"name": "keylines"},
          "mark": {"type": "rule", "strokeWidth": 4.5},
          "encoding": {
            "x": {"field": "T1", "type": "quantitative"},
            "x2": {"field": "T2"},
            "color": {"field": "q", "type": "nominal", "legend": null,
              "scale": {"domain": ["c", "d", "s"], "range": ["#b266ff", "#0000cc", "#404040"]}}
          }
        },
        {
          "data": {"name": "keylines"},
          "mark": {"type": "point", "filled": true, "size": 560, "opacity": 1},
          "encoding": {
            "color": {"field": "q", "type": "nominal", "legend": null,
              "scale": {"domain": ["c", "d", "s"], "range": ["#b266ff", "#0000cc", "#404040"]}}
          }
        }
      ]
    },
    {
      "data": {"name": "keys"},
      "mark": {"type": "point", "opacity": 0},
      "encoding": {
        "x": {
          "field": "T", "type": "quantitative",
          "scale": {"type": "log", "domain": [0.005, 1.19], "nice": false},
          "axis": {
            "orient": "top",
            "values": [0.006, 0.007, 0.008, 0.009, 0.01, 0.02, 0.03, 0.04, 0.05, 0.06, 0.07, 0.08, 0.09, 0.1, 0.2, 0.3, 0.4, 0.5, 0.6, 0.7, 0.8, 0.9, 1],
            "labels": false,
            "tickSize": {"condition": {"test": "datum.value == 0.01 || datum.value == 0.1 || datum.value == 1", "value": -24}, "value": -12},
            "title": null
          }
        },
        "y": {
          "field": "v", "type": "quantitative",
          "scale": {"domain": [-0.008, 1.098], "nice": false, "zero": false},
          "axis": {"orient": "right", "values": [0, 0.5, 1], "labels": false, "tickSize": -24, "title": null}
        }
      }
    }
  ],
  "resolve": {"axis": {"x": "independent", "y": "independent"}}
}
